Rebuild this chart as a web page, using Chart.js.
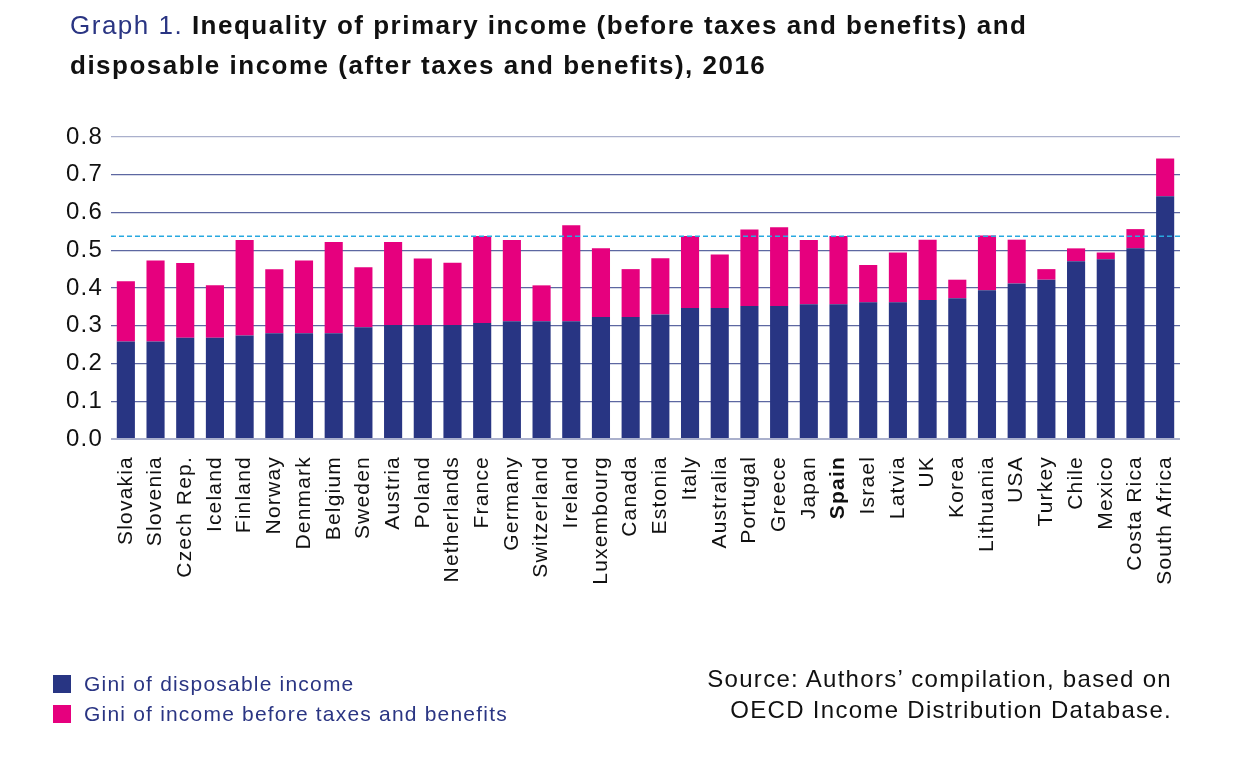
<!DOCTYPE html>
<html>
<head>
<meta charset="utf-8">
<script src="https://cdn.jsdelivr.net/npm/chart.js@4"></script>
<style>
    body { margin: 0; background: #fff; font-family: "Liberation Sans", Arial, sans-serif; }
    #wrap { position: relative; width: 1238px; height: 770px; overflow: hidden; }
    #chart { position: absolute; left: 0; top: 0; }
    .title { position: absolute; left: 70px; top: 5px; font-size: 26px; line-height: 40px; letter-spacing: 1.5px; color: #111; font-weight: bold; }
    .title .lead { color: #2a3583; font-weight: normal; }
    .legend { position: absolute; left: 53px; top: 669px; font-size: 21px; letter-spacing: 1.2px; color: #2a3583; line-height: 30px; }
    .legend div { display: flex; align-items: center; }
    .legend span.box { display: inline-block; width: 18px; height: 18px; margin-right: 13px; }
    .source { position: absolute; right: 66px; top: 663px; font-size: 24px; line-height: 31px; letter-spacing: 1.3px; text-align: right; color: #111; }
</style>
</head>
<body>
<div id="wrap">
    <canvas id="chart" width="1238" height="770"></canvas>
    <div class="title"><span class="lead">Graph 1.</span> Inequality of primary income (before taxes and benefits) and<br>disposable income (after taxes and benefits), 2016</div>
    <div class="legend">
        <div><span class="box" style="background:#283583"></span>Gini of disposable income</div>
        <div><span class="box" style="background:#e6007e"></span>Gini of income before taxes and benefits</div>
    </div>
    <div class="source">Source: Authors’ compilation, based on<br>OECD Income Distribution Database.</div>
</div>
<script>
// Countries, sorted by disposable income Gini
const countries = ['Slovakia', 'Slovenia', 'Czech Rep.', 'Iceland', 'Finland', 'Norway', 'Denmark', 'Belgium',
    'Sweden', 'Austria', 'Poland', 'Netherlands', 'France', 'Germany', 'Switzerland', 'Ireland', 'Luxembourg',
    'Canada', 'Estonia', 'Italy', 'Australia', 'Portugal', 'Greece', 'Japan', 'Spain', 'Israel', 'Latvia', 'UK',
    'Korea', 'Lithuania', 'USA', 'Turkey', 'Chile', 'Mexico', 'Costa Rica', 'South Africa'];

// Gini after taxes and benefits
const giniDisposable = [0.258, 0.258, 0.268, 0.268, 0.274, 0.280, 0.280, 0.280,
    0.296, 0.302, 0.302, 0.302, 0.307, 0.312, 0.312, 0.312, 0.323,
    0.323, 0.330, 0.347, 0.347, 0.352, 0.352, 0.357, 0.357, 0.362, 0.362, 0.368,
    0.373, 0.394, 0.412, 0.422, 0.471, 0.476, 0.505, 0.643];

// Gini before taxes and benefits (total bar height)
const giniPrimary = [0.418, 0.473, 0.466, 0.407, 0.527, 0.450, 0.473, 0.522,
    0.455, 0.522, 0.478, 0.467, 0.538, 0.527, 0.407, 0.566, 0.505,
    0.450, 0.479, 0.538, 0.489, 0.555, 0.561, 0.527, 0.538, 0.461, 0.494, 0.528,
    0.422, 0.539, 0.528, 0.450, 0.505, 0.494, 0.556, 0.743];

// Reference level (Spain, primary income)
const referenceLine = 0.537;

const yTicks = [0, 0.1, 0.2, 0.3, 0.4, 0.5, 0.6, 0.7, 0.8];

const NAVY = '#283583';
const PINK = '#e6007e';

// pink segment = primary minus disposable
const giniGap = giniPrimary.map((v, i) => +(v - giniDisposable[i]).toFixed(3));

// Slightly wider text spacing on the canvas labels
const spacingPlugin = {
    id: 'spacing',
    beforeDraw(chart) {
        chart.ctx.letterSpacing = '1.2px';
    }
};

// Dashed horizontal reference line across the plot
const refLinePlugin = {
    id: 'refLine',
    afterDatasetsDraw(chart) {
        const { ctx, chartArea, scales } = chart;
        const y = scales.y.getPixelForValue(referenceLine);
        ctx.save();
        ctx.strokeStyle = '#29a9e0';
        ctx.lineWidth = 1.5;
        ctx.setLineDash([5, 3]);
        ctx.beginPath();
        ctx.moveTo(chartArea.left, y);
        ctx.lineTo(chartArea.right, y);
        ctx.stroke();
        ctx.restore();
    }
};

new Chart(document.getElementById('chart'), {
    type: 'bar',
    data: {
        labels: countries,
        datasets: [{
            label: 'Gini of disposable income',
            data: giniDisposable,
            backgroundColor: NAVY,
            barPercentage: 0.61,
            categoryPercentage: 1
        }, {
            label: 'Gini of income before taxes and benefits',
            data: giniGap,
            backgroundColor: PINK,
            barPercentage: 0.61,
            categoryPercentage: 1
        }]
    },
    options: {
        responsive: false,
        animation: false,
        layout: {
            padding: { left: 0, right: 58, top: 137, bottom: 131 }
        },
        plugins: {
            legend: { display: false },
            tooltip: { enabled: false }
        },
        scales: {
            x: {
                stacked: true,
                grid: { display: false, drawTicks: false },
                border: { display: false },
                afterFit: (scale) => { scale.height = 200; },
                ticks: {
                    autoSkip: false,
                    maxRotation: 90,
                    minRotation: 90,
                    padding: 17,
                    color: '#111',
                    font: (ctx) => ({
                        family: '"Liberation Sans", Arial, sans-serif',
                        size: 21,
                        weight: countries[ctx.index] === 'Spain' ? 'bold' : 'normal'
                    })
                }
            },
            y: {
                stacked: true,
                min: 0,
                max: 0.8,
                afterFit: (scale) => { scale.width = 111; },
                afterBuildTicks: (scale) => { scale.ticks = yTicks.map(v => ({ value: v })); },
                border: { display: false },
                grid: {
                    drawTicks: false,
                    color: (ctx) => (ctx.tick.value === 0 || ctx.tick.value === 0.8) ? '#aab0cc' : '#5d67a1',
                    lineWidth: (ctx) => ctx.tick.value === 0 ? 2 : 1.2
                },
                ticks: {
                    padding: 8,
                    color: '#111',
                    font: { family: '"Liberation Sans", Arial, sans-serif', size: 24 },
                    callback: (v) => Number(v).toFixed(1)
                }
            }
        }
    },
    plugins: [spacingPlugin, refLinePlugin]
});
</script>
</body>
</html>
